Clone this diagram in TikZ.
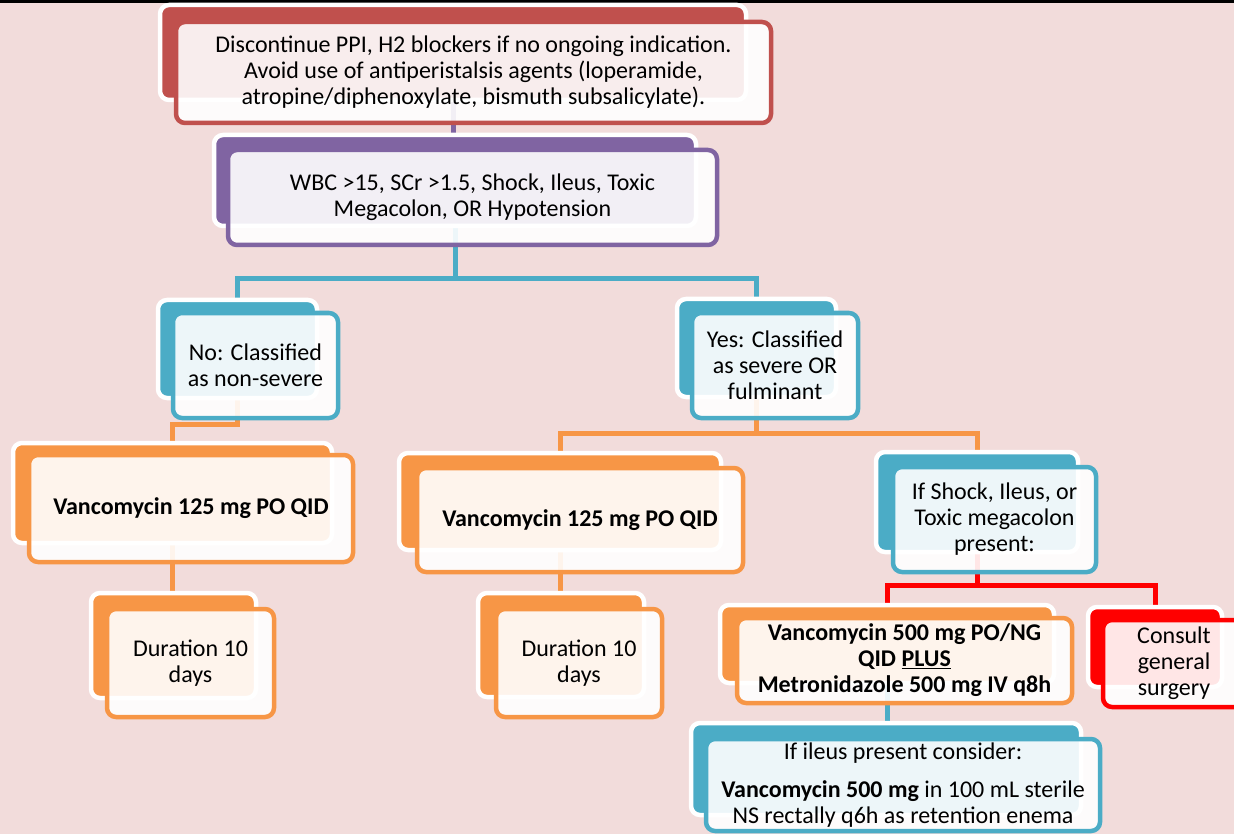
\documentclass[tikz,border=0pt]{standalone}
\usepackage{fontspec}
\setmainfont{Carlito}
\usetikzlibrary{fit}
\definecolor{bgc}{HTML}{F2DCDB}
\definecolor{cRed}{HTML}{C0504D}
\definecolor{cPur}{HTML}{8064A2}
\definecolor{cTeal}{HTML}{4BACC6}
\definecolor{cOr}{HTML}{F79646}
\definecolor{cBr}{HTML}{FF0000}
\pgfdeclarelayer{bgl}
\pgfdeclarelayer{connl}
\pgfsetlayers{bgl,connl,main}
\tikzset{
  backbox/.style={draw=white, line width=4.5pt, rounded corners=9pt, inner sep=0pt, outer sep=0pt},
  frontbox/.style={line width=4.5pt, rounded corners=9pt, fill=white, fill opacity=0.9,
    inner sep=0pt, outer sep=0pt},
  boxtext/.style={inner sep=0pt, align=center, text=black, font=\fontsize{24}{26}\selectfont},
  conn/.style={line width=5pt}
}
\newcommand\twobox[5]{%
  \node[backbox, fill=#2, fit={#3}] (#1) {};
  \node[frontbox, draw=#2, fit={#4}] (#1-t) {};
  \node[boxtext] (#1-l) at (#1-t.center) {#5};}
\begin{document}
\begin{tikzpicture}[x=1pt,y=-1pt]
\useasboundingbox (0,0) rectangle (1234,834);
\begin{pgfonlayer}{bgl}
\fill[bgc] (0,0) rectangle (1234,834);
\fill[black] (0,0) rectangle (1234,3);
\end{pgfonlayer}

\twobox{red}{cRed}{(160,5) (746,100)}{(176,22) (771,123)}{Discontinue PPI, H2 blockers if no ongoing indication.\\Avoid use of antiperistalsis agents (loperamide,\\atropine/diphenoxylate, bismuth subsalicylate).}
\twobox{pur}{cPur}{(214,135) (696,226)}{(228,150) (717,245)}{WBC >15, SCr >1.5, Shock, Ileus, Toxic\\Megacolon, OR Hypotension}
\twobox{no}{cTeal}{(158,300) (317,398)}{(173,313) (338,418)}{No: Classified\\as non-severe}
\twobox{yes}{cTeal}{(677,299) (836,397)}{(692,313) (858,418)}{Yes: Classified\\as severe OR\\fulminant}
\twobox{orA}{cOr}{(13,443) (332,543)}{(29,455) (353,562)}{\textbf{Vancomycin 125 mg PO QID}}
\twobox{durA}{cOr}{(91,593) (256,698)}{(107,609) (274,717)}{Duration 10\\days}
\twobox{orB}{cOr}{(399,453) (721,550)}{(417,468) (743,572)}{\textbf{Vancomycin 125 mg PO QID}}
\twobox{durB}{cOr}{(478,593) (644,697)}{(496,609) (662,717)}{Duration 10\\days}
\twobox{shock}{cTeal}{(876,452) (1078,552)}{(893,467) (1096,572)}{If Shock, Ileus, or\\Toxic megacolon\\present:}
\twobox{vm}{cOr}{(720,605) (1054,683)}{(737,618) (1072,703)}{\textbf{Vancomycin 500 mg PO/NG}\\\textbf{QID \underline{PLUS}}\\\textbf{Metronidazole 500 mg IV q8h}}
\twobox{cons}{cBr}{(1088,607) (1222,687)}{(1103,620) (1245,707)}{Consult\\general\\surgery}
\twobox{ile}{cTeal}{(691,723) (1081,815)}{(706,739) (1100,831)}{If ileus present consider:\\[12pt]\textbf{Vancomycin 500 mg} in 100 mL sterile\\NS rectally q6h as retention enema}

\coordinate (j1) at (455,279);
\coordinate (j2) at (238,424);
\coordinate (j3) at (757,433);
\coordinate (j4) at (977,585);
\begin{pgfonlayer}{connl}
\draw[conn, cPur] (red.south) -- (red.south |- pur.north);
\draw[conn, cTeal] (pur.south) -- (pur.south |- j1) -| (no.north);
\draw[conn, cTeal] (pur.south |- j1) -| (yes.north);
\draw[conn, cOr] (no.south) -- (no.south |- j2) -| (orA.north);
\draw[conn, cOr] (orA.south) -- (orA.south |- durA.north);
\draw[conn, cOr] (yes.south) -- (yes.south |- j3) -| (orB.north);
\draw[conn, cOr] (yes.south |- j3) -| (shock.north);
\draw[conn, cOr] (orB.south) -- (orB.south |- durB.north);
\draw[conn, cBr] (shock.south) -- (shock.south |- j4) -| (vm.north);
\draw[conn, cBr] (shock.south |- j4) -| (cons.north);
\draw[conn, cTeal] (vm.south) -- (vm.south |- ile.north);
\end{pgfonlayer}
\end{tikzpicture}
\end{document}
